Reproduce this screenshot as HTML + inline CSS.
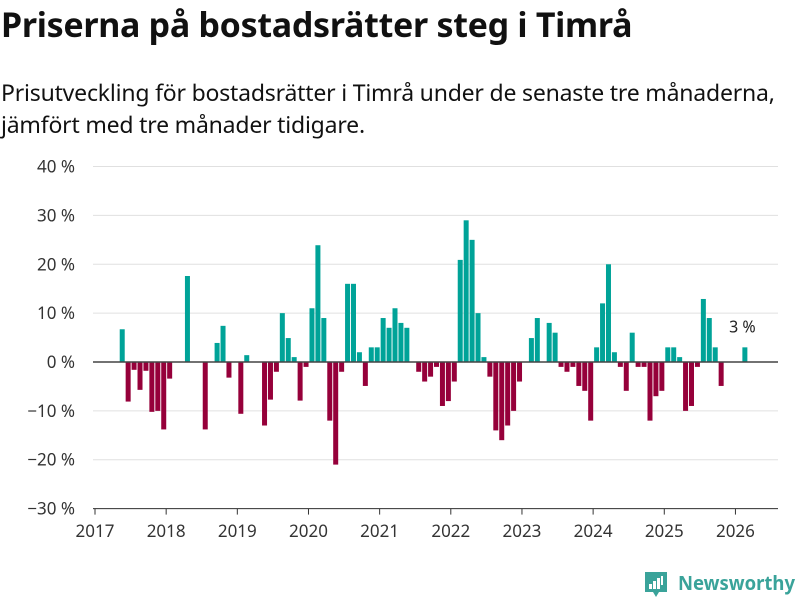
<!DOCTYPE html>
<html><head><meta charset="utf-8">
<style>
body{margin:0;background:#fff;font-family:"Noto Sans","DejaVu Sans","Liberation Sans",sans-serif;color:#111}
#wrap{position:relative;width:800px;height:600px;overflow:hidden}
h1{position:absolute;left:1px;top:1px;margin:0;font-size:34px;font-weight:bold;letter-spacing:-0.3px;white-space:nowrap}
p{position:absolute;left:1px;top:76px;margin:0;font-size:23px;line-height:32px;width:799px;color:#111;letter-spacing:-0.2px}
</style></head><body>
<div id="wrap">
<h1>Priserna på bostadsrätter steg i Timrå</h1>
<p>Prisutveckling för bostadsrätter i Timrå under de senaste tre månaderna, jämfört med tre månader tidigare.</p>
<svg id="chart" width="800" height="600" style="position:absolute;left:0;top:0"></svg>
</div>
<script>
const startYear = 2017;
const startMonthIndex = 4; // May 2017
const values = [6.7,-8.1,-1.6,-5.7,-1.8,-10.2,-10,-13.8,-3.4,0,0,17.6,0,0,-13.8,0,3.9,7.4,-3.2,0,-10.6,1.4,0,0,-13,-7.7,-2,10,4.9,1,-7.9,-1,11,23.9,9,-12,-21,-2,16,16,2,-4.9,3,3,9,7,11,8,7,0,-2,-4,-3,-1,-9,-8,-4,20.9,29,25,10,1,-3,-14,-16,-13,-10,-4,0,4.9,9,0,8,6,-1,-2,-1,-4.9,-5.9,-12,3,12,20,2,-1,-5.9,6,-1,-1,-12,-7,-5.9,3,3,1,-10,-9,-1,12.9,9,3,-4.9,0,0,0,3];
const yTicks = [40,30,20,10,0,-10,-20,-30];
const yearTicks = [2017,2018,2019,2020,2021,2022,2023,2024,2025,2026];
const lastLabel = "3 %";

const svg = document.getElementById('chart');
const NS = 'http://www.w3.org/2000/svg';
const X0 = 95, PX_MONTH = 5.93, Y0 = 362, PX_PCT = 4.886;
const xs = m => X0 + m * PX_MONTH;
const ys = v => Y0 - v * PX_PCT;
function mk(tag, attrs){const e=document.createElementNS(NS,tag);for(const k in attrs)e.setAttribute(k,attrs[k]);svg.appendChild(e);return e;}

yTicks.forEach(t=>{
  if(t!==0){const g=mk('line',{x1:93,x2:778,y1:ys(t),y2:ys(t),stroke:'#e0e0e0','stroke-width':1});
  
  }
  const l=mk('text',{x:75,y:ys(t)+6,'text-anchor':'end','font-size':17,fill:'#333'});
  l.textContent=(t<0?'\u2212'+Math.abs(t):t)+' %';
  
  
});
const ax=mk('line',{x1:93,x2:778,y1:ys(-30),y2:ys(-30),stroke:'#333','stroke-width':1});


yearTicks.forEach(yr=>{
  const x=xs((yr-startYear)*12);
  const tk=mk('line',{x1:x,x2:x,y1:ys(-30),y2:ys(-30)+6,stroke:'#333','stroke-width':1});
  
  
  const l=mk('text',{x:x,y:537,'text-anchor':'middle','font-size':17,fill:'#333'});
  l.textContent=yr;
  
  
});
values.forEach((v,i)=>{
  if(v===0)return;
  const x=xs(startMonthIndex+i)+1;
  const y=v>0?ys(v):Y0;
  const b=mk('rect',{x:x,y:y,width:5,height:Math.abs(v)*PX_PCT,fill:v>0?'#00a398':'#96003a'});
  
  
});
const zl=mk('line',{x1:93,x2:778,y1:Y0,y2:Y0,stroke:'#444','stroke-width':1.5});


const li=startMonthIndex+values.length-1;
const lab=mk('text',{x:xs(li)+1,y:ys(values[values.length-1])-15,'text-anchor':'middle','font-size':16,fill:'#222'});
lab.textContent=lastLabel;



// logo
const g=document.createElementNS(NS,'g');


svg.appendChild(g);
g.innerHTML='<path d="M645 572 h22 v20 h-8 l-3 5 l-3 -5 h-8 z" fill="#3aa39a"/><rect x="649" y="584" width="3" height="5" fill="#fff"/><rect x="653" y="581" width="3" height="8" fill="#fff"/><rect x="657" y="578" width="3" height="11" fill="#fff"/><rect x="661" y="576" width="2" height="9" fill="#fff"/><text x="678" y="590" font-size="20" font-weight="bold" fill="#3aa39a" textLength="117" lengthAdjust="spacingAndGlyphs">Newsworthy</text>';
</script>
</body></html>
